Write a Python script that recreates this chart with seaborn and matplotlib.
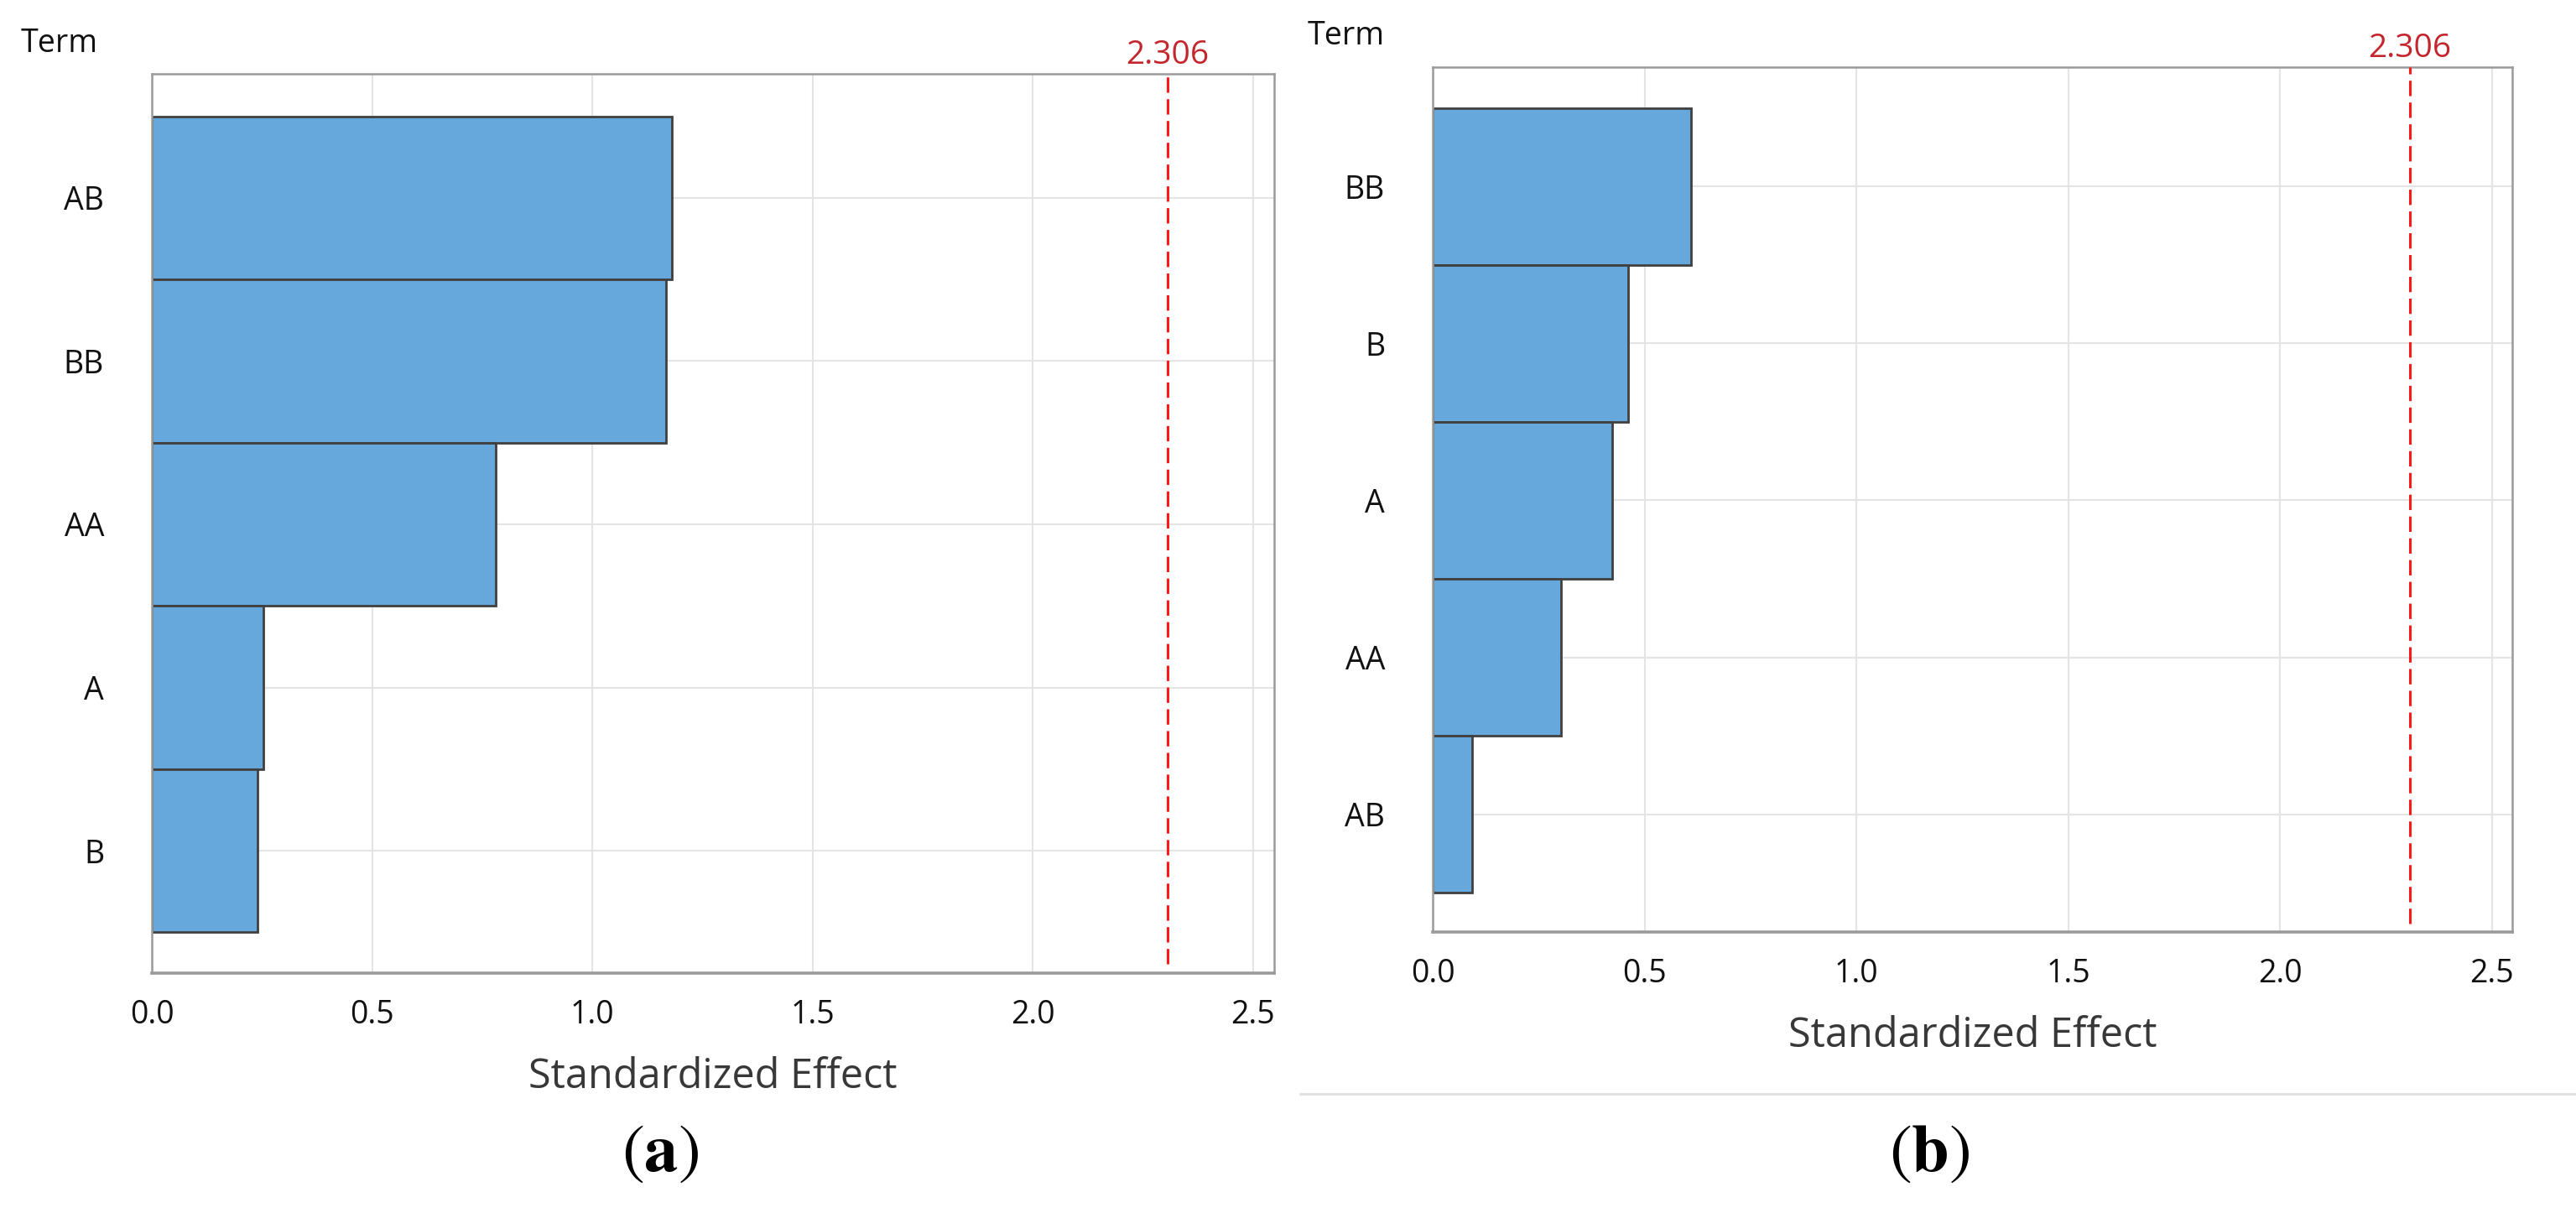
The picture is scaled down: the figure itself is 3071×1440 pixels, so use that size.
import matplotlib
matplotlib.use("Agg")
import matplotlib.pyplot as plt
import matplotlib.transforms as mtransforms
from matplotlib.lines import Line2D
import seaborn as sns

# datos (Pareto de efectos estandarizados)
terms_a = ["AB", "BB", "AA", "A", "B"]
effects_a = [1.180, 1.167, 0.780, 0.253, 0.240]

terms_b = ["BB", "B", "A", "AA", "AB"]
effects_b = [0.610, 0.461, 0.424, 0.303, 0.093]

t_crit = 2.306
x_ticks = [0.0, 0.5, 1.0, 1.5, 2.0, 2.5]
panel_labels = ["a", "b"]

sns.set_style("whitegrid")
plt.rcParams['font.family'] = ['Open Sans', 'DejaVu Sans']
plt.rcParams['mathtext.fontset'] = 'stix'

W, H = 3071, 1440
fig = plt.figure(figsize=(W / 100, H / 100), dpi=100)

bar_color = "#66a8db"
edge_color = "#404040"
spine_color = "#9a9a9a"
grid_color = "#e4e4e4"


def pareto(ax, terms, effects):
    sns.barplot(x=effects, y=terms, orient="h", width=1.0, color=bar_color,
                saturation=1, edgecolor=edge_color, linewidth=2.0, ax=ax, zorder=2)
    ax.set_xlim(0, 2.548)
    ax.set_ylim(4.75, -0.76)
    ax.set_xticks(x_ticks)
    ax.set_xticklabels([f"{t:.1f}" for t in x_ticks])
    ax.set_axisbelow(True)
    ax.xaxis.grid(True, color=grid_color, linewidth=1.5)
    ax.yaxis.grid(True, color=grid_color, linewidth=1.5)
    for s in ax.spines.values():
        s.set_visible(True)
        s.set_color(spine_color)
        s.set_linewidth(1.8)
    ax.spines["bottom"].set_linewidth(2.6)
    ax.tick_params(axis="both", which="both", direction="out", length=10, width=1.5,
                   color=spine_color, labelsize=27, labelcolor="#111111")
    ax.tick_params(axis="y", pad=31)
    ax.tick_params(axis="x", pad=12)
    ax.set_ylabel("")
    ax.set_xlabel("Standardized Effect", fontsize=35, color="#383838", labelpad=22)
    # linea del valor critico
    ax.axvline(t_crit, ymin=0.01, ymax=1, color="#ff1a1a", linewidth=2.2,
               dashes=(6, 2.5), zorder=3)
    trans = mtransforms.blended_transform_factory(ax.transData, ax.transAxes)
    ax.text(t_crit, 1.003, f"{t_crit:.3f}", transform=trans, ha="center", va="bottom",
            fontsize=28, color="#c4262e")


# Grafico (a)
ax_a = fig.add_axes([181 / W, 1 - 1160 / H, 1338 / W, 1072 / H])
pareto(ax_a, terms_a, effects_a)
fig.text(25 / W, 1 - 52 / H, "Term", fontsize=27, color="#111111", va="center", ha="left")

# Grafico (b)
ax_b = fig.add_axes([1708 / W, 1 - 1111 / H, 1287 / W, 1031 / H])
pareto(ax_b, terms_b, effects_b)
fig.text(1559 / W, 1 - 43 / H, "Term", fontsize=27, color="#111111", va="center", ha="left")

# linea separadora bajo (b)
fig.add_artist(Line2D([1550 / W, 1.0], [1 - 1304 / H, 1 - 1304 / H],
                      transform=fig.transFigure, color="#e2e2e2", linewidth=2.2))

# etiquetas (a) y (b)
fig.text(787 / W, 1 - 1375 / H, r"$(\mathbf{%s})$" % panel_labels[0], fontsize=58,
         ha="center", va="center", color="black")
fig.text(2300 / W, 1 - 1375 / H, r"$(\mathbf{%s})$" % panel_labels[1], fontsize=58,
         ha="center", va="center", color="black")

fig.savefig("out.png", dpi=100, facecolor="white")
